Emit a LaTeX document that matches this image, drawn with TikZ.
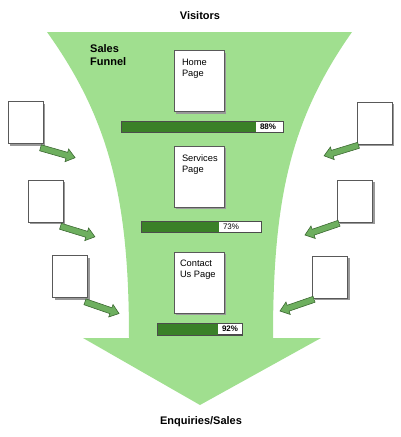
\documentclass[tikz,border=0pt]{standalone}
\usepackage{xcolor}
\usepackage{fontspec}
\setmainfont{Liberation Sans}
\usepackage{tikz}
\usetikzlibrary{positioning,shapes.arrows,shadows}

\definecolor{funnelgreen}{RGB}{160,223,143}
\definecolor{bardark}{RGB}{58,128,40}
\definecolor{arrowfill}{RGB}{110,175,95}
\definecolor{arrowline}{RGB}{60,105,50}

\begin{document}
\begin{tikzpicture}[x=1pt,y=-1pt,
  bigpage/.style={draw=gray!70!black, fill=white, minimum width=50pt, minimum height=61pt,
    drop shadow={shadow xshift=2pt, shadow yshift=-2pt, fill=gray!80, opacity=1}},
  smallpage/.style={bigpage, minimum width=35pt, minimum height=42pt},
  pagetext/.style={inner sep=0pt, align=left, font=\fontsize{9.3}{11}\selectfont},
  title/.style={font=\fontsize{11}{13}\selectfont\bfseries},
  barbox/.style={draw=gray!60!black, fill=white, minimum height=11pt, inner sep=0pt},
  pct/.style={inner sep=0pt},
  flowarrow/.style={single arrow, draw=arrowline, fill=arrowfill, line width=0.6pt,
    minimum height=36pt, inner sep=2.8pt, single arrow head extend=3.5pt,
    single arrow tip angle=75}]
\useasboundingbox (0,0) rectangle (400,437);
%1. the funnel
\fill[funnelgreen] (47,32) .. controls (110,120) and (129,200) .. (129,338)
  -- (83,338) -- (200,405) -- (321,338) -- (273,338)
  .. controls (273,200) and (290,120) .. (352,32) -- cycle;
\node[title] (top) at (200,16) {Visitors};
\node[title] (bottom) at (201,422) {Enquiries/Sales};
\node[title, inner sep=0pt, align=left, anchor=north west] (name) at (90,44) {Sales\\Funnel};

%2. the pages inside the funnel
\node[bigpage] (home) at (199,81) {};
\node[bigpage] (serv) at (199,176.5) {};
\node[bigpage] (cont) at (199,282.5) {};
\node[pagetext, below right=9pt and 8pt of home.north west] (hometext) {Home\\Page};
\node[pagetext, below right=9pt and 8pt of serv.north west] (servtext) {Services\\Page};
\node[pagetext, below right=8pt and 6pt of cont.north west] (conttext) {Contact\\Us Page};

%3. the bars with the rates
\foreach \i/\cx/\cy/\w/\f/\pc/\wt in
  {1/202/126.5/162/135/88/\bfseries, 2/201/226.5/120/78/73/\mdseries, 3/199.5/329/85/61/92/\bfseries}
  {\node[barbox, minimum width=\w] (bar\i) at (\cx,\cy) {};
  \fill[bardark] (bar\i.north west) rectangle ([xshift=\f]bar\i.south west);
  \draw[gray!60!black] (bar\i.north west) rectangle (bar\i.south east);
  \node[pct, font=\fontsize{8}{9}\selectfont\wt, right=4pt] (pc\i) at ([xshift=\f]bar\i.west) {\pc\%};
  }

%4. the pages outside, with their arrows
\foreach \n/\x/\y in
  {l1/25.5/122.5, l2/45.5/201, l3/70/276.5, r1/374.5/123, r2/355/201, r3/330/277}
  {\node[smallpage] (\n) at (\x,\y) {};}
\foreach \n/\a in {l1/-16, l2/-17, l3/-19}
  {\node[flowarrow, rotate=\a, anchor=tail] (a\n) at ([shift={(-3,4)}]\n.south east) {};}
\foreach \n/\a in {r1/197, r2/199, r3/199}
  {\node[flowarrow, rotate=\a, anchor=tail] (a\n) at ([shift={(2,1)}]\n.south west) {};}
\end{tikzpicture}
\end{document}
